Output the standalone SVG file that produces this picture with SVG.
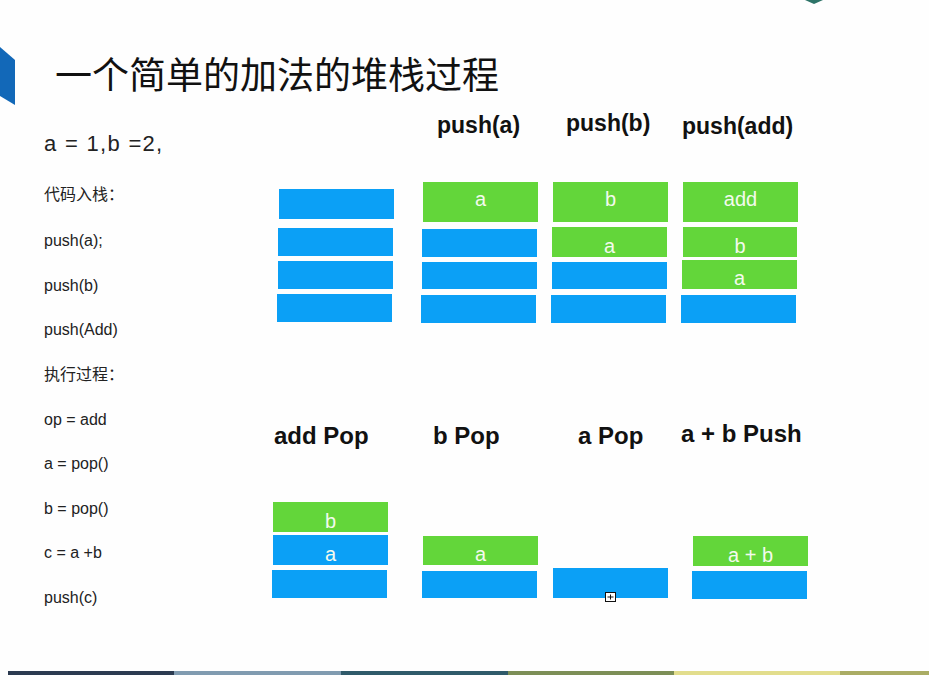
<svg xmlns="http://www.w3.org/2000/svg" width="929" height="680" viewBox="0 0 929 680">
<style>
.bg{fill:#fefefe}
.blue{fill:#0ba0f6}
.green{fill:#63d63a}
.cell{font-family:"Liberation Sans",Arial,sans-serif;font-size:20px;fill:#f3faee;text-anchor:middle}
.head{font-family:"Liberation Sans",Arial,sans-serif;font-size:23px;font-weight:bold;fill:#111}
.head2{font-family:"Liberation Sans",Arial,sans-serif;font-size:24px;font-weight:bold;fill:#111}
.code{font-family:"Liberation Sans","Noto Sans CJK SC",sans-serif;font-size:16px;fill:#222}
.vars{font-family:"Liberation Sans",Arial,sans-serif;font-size:22px;letter-spacing:1.3px;fill:#222}
.title{font-family:"Noto Sans CJK SC",sans-serif;font-size:37px;fill:#111}
</style>
<rect class="bg" x="0" y="0" width="929" height="680"/>
<polygon points="0,47 15,60 15,105 0,96" fill="#1268b8"/>
<polygon points="805,0 823,0 814,4" fill="#2e7468"/>
<g id="bottom-strip">
<rect x="8" y="671" width="166" height="4" fill="#2b3a50"/>
<rect x="174" y="671" width="167" height="4" fill="#809bb0"/>
<rect x="341" y="671" width="167" height="4" fill="#2f5a6a"/>
<rect x="508" y="671" width="166" height="4" fill="#7c8e56"/>
<rect x="674" y="671" width="166" height="4" fill="#e2dd8c"/>
<rect x="840" y="671" width="89" height="4" fill="#aaac64"/>
</g>
<text class="title" x="55" y="89">一个简单的加法的堆栈过程</text>
<g id="code">
<text class="vars" x="44" y="151">a = 1,b =2,</text>
<text class="code" x="44" y="200">代码入栈：</text>
<text class="code" x="44" y="246">push(a);</text>
<text class="code" x="44" y="290.5">push(b)</text>
<text class="code" x="44" y="335">push(Add)</text>
<text class="code" x="44" y="379.5">执行过程：</text>
<text class="code" x="44" y="424.5">op = add</text>
<text class="code" x="44" y="469">a = pop()</text>
<text class="code" x="44" y="513.5">b = pop()</text>
<text class="code" x="44" y="558">c = a +b</text>
<text class="code" x="44" y="602.5">push(c)</text>
</g>
<g id="stack-initial">
<rect class="blue" x="279" y="189" width="115" height="30"/>
<rect class="blue" x="278" y="228" width="115" height="28"/>
<rect class="blue" x="278" y="261" width="115" height="28"/>
<rect class="blue" x="277" y="294" width="115" height="28"/>
</g>
<g id="stack-push-a">
<text class="head" x="437" y="133">push(a)</text>
<rect class="green" x="423" y="182" width="115" height="40"/>
<text class="cell" x="480.5" y="206">a</text>
<rect class="blue" x="422" y="229" width="115" height="28"/>
<rect class="blue" x="422" y="262" width="115" height="27"/>
<rect class="blue" x="421" y="295" width="115" height="28"/>
</g>
<g id="stack-push-b">
<text class="head" x="566" y="131">push(b)</text>
<rect class="green" x="553" y="182" width="115" height="40"/>
<text class="cell" x="610.5" y="206">b</text>
<rect class="green" x="552" y="227" width="115" height="30"/>
<text class="cell" x="609.5" y="253">a</text>
<rect class="blue" x="552" y="262" width="115" height="27"/>
<rect class="blue" x="551" y="295" width="115" height="28"/>
</g>
<g id="stack-push-add">
<text class="head" x="682" y="134">push(add)</text>
<rect class="green" x="683" y="182" width="115" height="40"/>
<text class="cell" x="740.5" y="206">add</text>
<rect class="green" x="683" y="227" width="114" height="30"/>
<text class="cell" x="740" y="253">b</text>
<rect class="green" x="682" y="260" width="115" height="29"/>
<text class="cell" x="739.5" y="285">a</text>
<rect class="blue" x="681" y="295" width="115" height="28"/>
</g>
<g id="stack-add-pop">
<text class="head2" x="274" y="444">add Pop</text>
<rect class="green" x="273" y="502" width="115" height="30"/>
<text class="cell" x="330.5" y="528">b</text>
<rect class="blue" x="273" y="535" width="115" height="30"/>
<text class="cell" x="330.5" y="561">a</text>
<rect class="blue" x="272" y="570" width="115" height="28"/>
</g>
<g id="stack-b-pop">
<text class="head2" x="433" y="444">b Pop</text>
<rect class="green" x="423" y="536" width="115" height="29"/>
<text class="cell" x="480.5" y="561">a</text>
<rect class="blue" x="422" y="571" width="115" height="27"/>
</g>
<g id="stack-a-pop">
<text class="head2" x="578" y="444">a Pop</text>
<rect class="blue" x="553" y="568" width="115" height="30"/>
</g>
<g id="stack-ab-push">
<text class="head2" x="681" y="442">a + b Push</text>
<rect class="green" x="693" y="536" width="115" height="30"/>
<text class="cell" x="750.5" y="562">a + b</text>
<rect class="blue" x="692" y="571" width="115" height="28"/>
</g>
<g id="connectors"/>
<g id="cursor">
<rect x="605.5" y="592.5" width="10" height="9" fill="#fff" stroke="#111" stroke-width="1"/>
<path d="M607.5 597h6M610.5 594.5v5" stroke="#111" stroke-width="1"/>
</g>
</svg>
